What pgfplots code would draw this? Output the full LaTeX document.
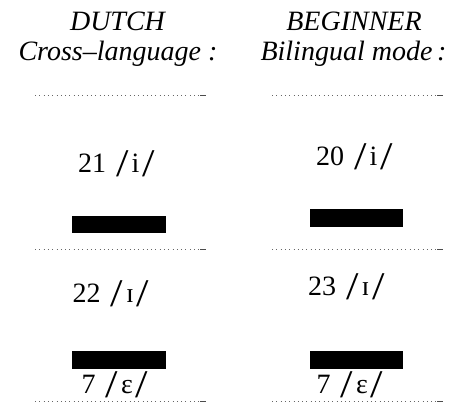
\documentclass[border=0pt]{standalone}
\usepackage{pgfplots}
\pgfplotsset{compat=1.18}
\usepackage{graphicx}
\usepackage{fontspec}
\setmainfont{Liberation Serif}
\newcommand\bigsl{\raisebox{-4pt}{\scalebox{1.6}[1.4]{/}}}
\newcommand\ph[1]{\kern3pt\bigsl\kern3pt#1\kern3pt\bigsl}
\tikzset{dots/.style={gray!80!black, line width=1pt, dash pattern=on 1pt off 3.3pt}}

\begin{document}
\begin{tikzpicture}
\begin{axis}[
  scale only axis, width=451pt, height=405pt,
  xmin=0, xmax=451, ymin=0, ymax=405, y dir=reverse,
  hide axis, clip=false,
  nodes={font=\fontsize{28}{34}\selectfont, inner sep=0pt}]
% frame of the picture
\addplot[draw=none] coordinates {(0,0) (451,405)};
% category boundaries (dotted)
\foreach \yy in {95,249,401} {
  \edef\tmp{\noexpand\addplot[dots] coordinates {(35,\yy) (206,\yy)};
    \noexpand\addplot[gray!60!black, line width=1pt] coordinates {(200,\yy) (206,\yy)};
    \noexpand\addplot[dots] coordinates {(272,\yy) (443,\yy)};
    \noexpand\addplot[gray!60!black, line width=1pt] coordinates {(437,\yy) (443,\yy)};}
  \tmp
}
% response bars
\addplot[black, line width=17pt] coordinates {(72,224.5) (166,224.5)};
\addplot[black, line width=18pt] coordinates {(310,218) (403,218)};
\addplot[black, line width=18pt] coordinates {(72,360) (166,360)};
\addplot[black, line width=18pt] coordinates {(310,360) (403,360)};
% headers
\node[anchor=base] at (axis cs:117.5,30) {\itshape DUTCH};
\node[anchor=base] at (axis cs:118,60) {\itshape Cross–language :};
\node[anchor=base] at (axis cs:354,30) {\itshape BEGINNER};
\node[anchor=base] at (axis cs:353.5,60) {\itshape Bilingual mode\,:};
% counts
\node[anchor=base] at (axis cs:116.5,172) {21 \ph{i}};
\node[anchor=base] at (axis cs:354.5,165) {20 \ph{i}};
\node[anchor=base] at (axis cs:111,302) {22 \ph{ɪ}};
\node[anchor=base] at (axis cs:346.5,295) {23 \ph{ɪ}};
\node[anchor=base] at (axis cs:115,393) {7 \ph{ε}};
\node[anchor=base] at (axis cs:350,393) {7 \ph{ε}};
\end{axis}
\end{tikzpicture}
\end{document}
